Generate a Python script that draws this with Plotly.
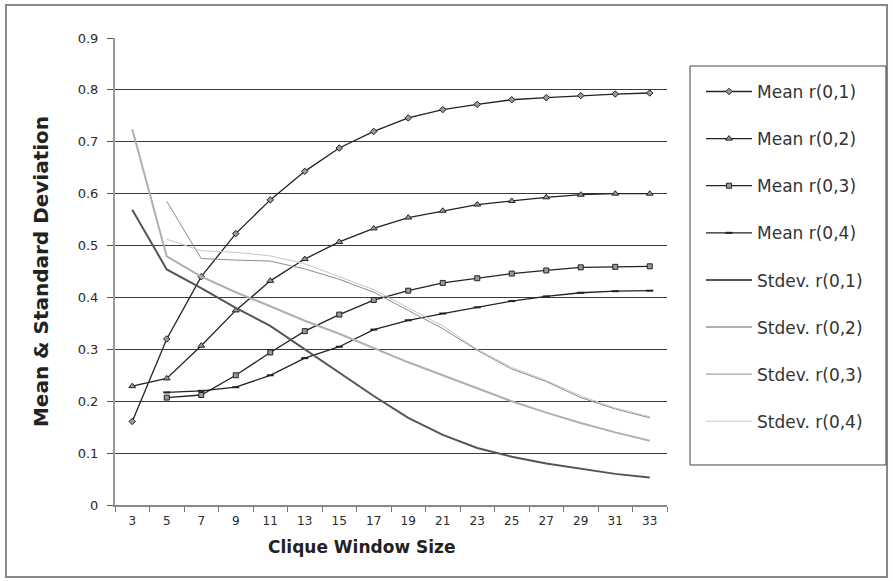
import plotly.graph_objects as go

categories = ["3", "5", "7", "9", "11", "13", "15", "17", "19", "21", "23", "25", "27", "29", "31", "33"]

mean_r01 = [0.161, 0.320, 0.440, 0.523, 0.588, 0.643, 0.688, 0.720, 0.746, 0.762, 0.772, 0.781, 0.785, 0.789, 0.792, 0.794]
mean_r02 = [0.229, 0.244, 0.307, 0.375, 0.432, 0.474, 0.507, 0.533, 0.554, 0.567, 0.579, 0.586, 0.593, 0.598, 0.600, 0.600]
mean_r03 = [None, 0.207, 0.212, 0.250, 0.294, 0.335, 0.367, 0.395, 0.413, 0.428, 0.437, 0.446, 0.452, 0.458, 0.459, 0.460]
mean_r04 = [None, 0.217, 0.220, 0.227, 0.250, 0.283, 0.305, 0.338, 0.356, 0.369, 0.381, 0.393, 0.402, 0.409, 0.412, 0.413]

std_r01 = [0.569, 0.454, 0.418, 0.380, 0.345, 0.300, 0.255, 0.210, 0.168, 0.135, 0.110, 0.093, 0.080, 0.070, 0.060, 0.053]
std_r02 = [0.724, 0.479, 0.440, 0.410, 0.383, 0.355, 0.330, 0.303, 0.275, 0.250, 0.225, 0.200, 0.178, 0.158, 0.140, 0.124]
std_r03 = [None, 0.585, 0.475, 0.472, 0.470, 0.455, 0.435, 0.410, 0.375, 0.340, 0.298, 0.262, 0.238, 0.207, 0.185, 0.168]
std_r04 = [None, 0.512, 0.490, 0.487, 0.480, 0.465, 0.440, 0.415, 0.380, 0.345, 0.300, 0.265, 0.240, 0.210, 0.187, 0.170]

series_names = ["Mean r(0,1)", "Mean r(0,2)", "Mean r(0,3)", "Mean r(0,4)",
                "Stdev. r(0,1)", "Stdev. r(0,2)", "Stdev. r(0,3)", "Stdev. r(0,4)"]

y_ticks = [0, 0.1, 0.2, 0.3, 0.4, 0.5, 0.6, 0.7, 0.8, 0.9]
y_tick_labels = ["0", "0.1", "0.2", "0.3", "0.4", "0.5", "0.6", "0.7", "0.8", "0.9"]

x_title = "Clique Window Size"
y_title = "Mean &amp; Standard Deviation"

FONT = "DejaVu Sans"

fig = go.Figure()

mean_styles = [
    dict(symbol="diamond", size=5, lw=1),
    dict(symbol="triangle-up", size=6, lw=1),
    dict(symbol="square", size=5, lw=1),
    dict(symbol="line-ew", size=5, lw=2),
]
for i, vals in enumerate([mean_r01, mean_r02, mean_r03, mean_r04]):
    st = mean_styles[i]
    fig.add_trace(go.Scatter(
        x=categories, y=vals, name=series_names[i], mode="lines+markers",
        legendgroup=f"g{i}",
        line=dict(color="#222222", width=1.3),
        marker=dict(symbol=st["symbol"], size=st["size"], color="#9a9a9a",
                    line=dict(color="#222222", width=st["lw"])),
    ))

std_styles = [
    dict(color="#555555", width=2),
    dict(color="#b0b0b0", width=2),
    dict(color="#8c8c8c", width=1),
    dict(color="#c4c4c4", width=1),
]
for j, vals in enumerate([std_r01, std_r02, std_r03, std_r04]):
    fig.add_trace(go.Scatter(
        x=categories, y=vals, name=series_names[4 + j], mode="lines",
        legendgroup=f"s{j}",
        line=dict(color=std_styles[j]["color"], width=std_styles[j]["width"]),
    ))

fig.update_layout(
    width=893, height=581,
    margin=dict(l=115, r=226, t=38, b=76),
    paper_bgcolor="white", plot_bgcolor="white",
    font=dict(family=FONT, size=12, color="#333333"),
    showlegend=True,
    legend=dict(
        x=1.0616, xanchor="left", y=0.923, yanchor="top",
        borderwidth=0, bgcolor="rgba(0,0,0,0)",
        font=dict(family=FONT, size=17, color="#333333"),
        tracegroupgap=22, itemwidth=46,
    ),
    xaxis=dict(
        type="category", showgrid=False,
        ticks="outside", tickson="boundaries", ticklen=5, tickcolor="#777777",
        showline=True, linecolor="#888888", linewidth=2,
        ticklabelstandoff=4,
        tickfont=dict(family=FONT, size=12, color="#2a2a2a"),
        range=[-0.5, 15.5],
    ),
    yaxis=dict(
        range=[0, 0.9], tickvals=y_ticks, ticktext=y_tick_labels,
        showgrid=True, gridcolor="#3a3a3a", gridwidth=1,
        ticks="outside", ticklen=6, tickcolor="#555555",
        showline=True, linecolor="#999999", linewidth=2,
        zeroline=False, ticklabelstandoff=6,
        tickfont=dict(family=FONT, size=13, color="#2a2a2a"),
        title=dict(text=f"<b>{y_title}</b>", font=dict(family=FONT, size=20, color="#222222"), standoff=24),
    ),
)

fig.add_annotation(
    text=f"<b>{x_title}</b>", xref="paper", yref="paper",
    x=0.447, y=-0.0899, xanchor="center", yanchor="middle", showarrow=False,
    font=dict(family=FONT, size=17, color="#222222"),
)

# legend frame
fig.add_shape(type="rect", xref="paper", yref="paper",
              x0=1.0417, x1=1.3967, y0=0.0857, y1=0.940,
              line=dict(color="#444444", width=1), fillcolor="rgba(0,0,0,0)")
# outer chart frame
fig.add_shape(type="rect", xref="paper", yref="paper",
              x0=-0.1975, x1=1.3986, y0=-0.1542, y1=1.0707,
              line=dict(color="#888888", width=2), fillcolor="rgba(0,0,0,0)", layer="below")

fig.write_html("out.html", config={"displayModeBar": False},
               post_script="document.body.style.margin='0px';")
